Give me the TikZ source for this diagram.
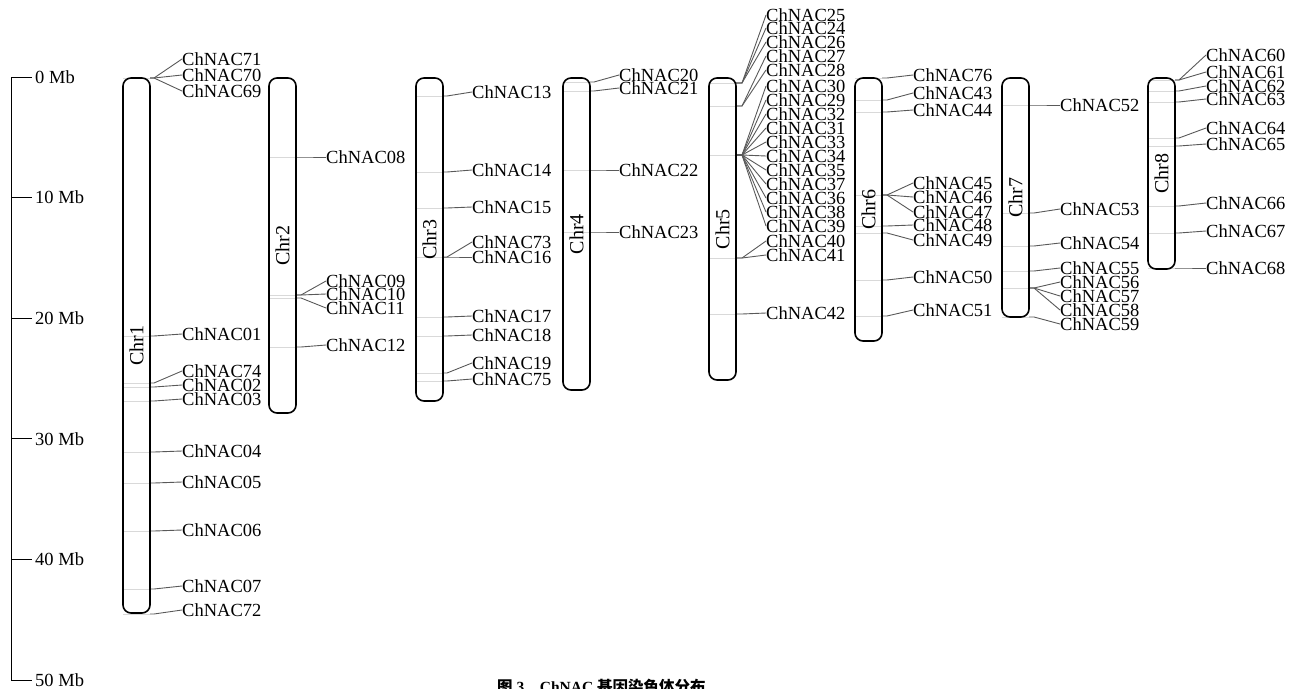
\documentclass[tikz,border=0pt]{standalone}
\usepackage{fontspec}
\setmainfont{Liberation Serif}
\newfontfamily\cjkfont{Noto Sans CJK SC}
\usetikzlibrary{positioning}

\begin{document}
\begin{tikzpicture}[x=1pt, y=-1pt,
    chrom/.style={draw=black, line width=1.6pt, rounded corners=8pt},
    chrname/.style={rotate=90, inner sep=0pt, font=\fontsize{20}{20}\selectfont},
    genetick/.style={draw=gray!30, line width=0.8pt},
    genelink/.style={draw=gray!70!black, line width=0.9pt},
    genename/.style={anchor=west, inner sep=0pt, font=\fontsize{18.5}{18.5}\selectfont},
    scalelabel/.style={anchor=west, inner sep=0pt, font=\fontsize{18.5}{18.5}\selectfont}]
    \useasboundingbox (0,0) rectangle (1301,688);

    % Scale bar (12.06 px per Mb)
    \draw[line width=1pt] (11,77) -- (11,680);
    \foreach \mb in {0,10,20,30,40,50} {
        \coordinate (tick\mb) at (11,77+12.06*\mb);
        \node[scalelabel] (mb\mb) at (35,77+12.06*\mb) {\mb~Mb};
        \draw[line width=1pt] (tick\mb) -- ++(21,0);
    }

    % Chr1 genes
    \foreach \g/\gy/\ly in {71/78/59, 70/78/75, 69/78/91, 01/336/334, 74/383/371, 02/387/385,
        03/401/399, 04/452/451, 05/483/482, 06/531/530, 07/589/586, 72/614/610} {
        \coordinate (g\g) at (150,\gy);
        \node[genename] (n\g) at (182,\ly) {ChNAC\g};
        \draw[genetick] (123,\gy) -- (g\g);
        \draw[genelink] (g\g) -- ++(4,0) -- (n\g.west);
    }

    % Chr2 genes
    \foreach \g/\gy/\ly in {08/157/157, 09/295/281, 10/295/294, 11/298/308, 12/347/345} {
        \coordinate (g\g) at (297,\gy);
        \node[genename] (n\g) at (326,\ly) {ChNAC\g};
        \draw[genetick] (269,\gy) -- (g\g);
        \draw[genelink] (g\g) -- ++(4,0) -- (n\g.west);
    }

    % Chr3 genes
    \foreach \g/\gy/\ly in {13/96/92, 14/172/170, 15/208/207, 73/257/242, 16/257/257,
        17/317/316, 18/336/335, 19/373/363, 75/381/379} {
        \coordinate (g\g) at (443,\gy);
        \node[genename] (n\g) at (472,\ly) {ChNAC\g};
        \draw[genetick] (416,\gy) -- (g\g);
        \draw[genelink] (g\g) -- ++(4,0) -- (n\g.west);
    }

    % Chr4 genes
    \foreach \g/\gy/\ly in {20/82/75, 21/91/88, 22/170/170, 23/232/232} {
        \coordinate (g\g) at (590,\gy);
        \node[genename] (n\g) at (619,\ly) {ChNAC\g};
        \draw[genetick] (563,\gy) -- (g\g);
        \draw[genelink] (g\g) -- ++(4,0) -- (n\g.west);
    }

    % Chr5 genes
    \foreach \g/\gy/\ly in {25/83/15, 24/83/28, 26/83/42, 27/106/56, 28/106/70,
        30/155/86, 29/155/100, 32/155/114, 31/155/128, 33/155/142, 34/155/156,
        35/155/170, 37/155/184, 36/155/198, 38/155/212, 39/155/226,
        40/258/241, 41/258/255, 42/314/313} {
        \coordinate (g\g) at (736,\gy);
        \node[genename] (n\g) at (766,\ly) {ChNAC\g};
        \draw[genetick] (709,\gy) -- (g\g);
        \draw[genelink] (g\g) -- ++(6,0) -- (n\g.west);
    }

    % Chr6 genes
    \foreach \g/\gy/\ly in {76/78/75, 43/100/93, 44/112/110, 45/195/183, 46/195/197,
        47/195/212, 48/226/225, 49/233/240, 50/280/277, 51/316/310} {
        \coordinate (g\g) at (882,\gy);
        \node[genename] (n\g) at (913,\ly) {ChNAC\g};
        \draw[genetick] (855,\gy) -- (g\g);
        \draw[genelink] (g\g) -- ++(5,0) -- (n\g.west);
    }

    % Chr7 genes
    \foreach \g/\gy/\ly in {52/105/105, 53/213/209, 54/246/243, 55/271/268,
        56/288/282, 57/288/296, 58/288/310, 59/317/324} {
        \coordinate (g\g) at (1029,\gy);
        \node[genename] (n\g) at (1060,\ly) {ChNAC\g};
        \draw[genetick] (1002,\gy) -- (g\g);
        \draw[genelink] (g\g) -- ++(5,0) -- (n\g.west);
    }

    % Chr8 genes
    \foreach \g/\gy/\ly in {60/80/55, 61/80/72, 62/91/86, 63/102/99, 64/138/128,
        65/146/144, 66/206/203, 67/233/231, 68/268/268} {
        \coordinate (g\g) at (1175,\gy);
        \node[genename] (n\g) at (1206,\ly) {ChNAC\g};
        \draw[genetick] (1148,\gy) -- (g\g);
        \draw[genelink] (g\g) -- ++(4,0) -- (n\g.west);
    }

    % Chromosomes
    \foreach \c/\x/\b in {1/123/613, 2/269/413, 3/416/401, 4/563/390,
        5/709/380, 6/855/341, 7/1002/317, 8/1148/269} {
        \draw[chrom] (\x,78) rectangle (\x+27,\b);
        \node[chrname] (chr\c) at (\x+13.5,{(78+\b)/2}) {Chr\c};
    }

    % Caption
    \node[anchor=base west, inner sep=0pt, font=\fontsize{15.5}{15.5}\selectfont\bfseries] (caption) at (497,692)
        {{\cjkfont 图}~3\quad ChNAC~{\cjkfont 基因染色体分布}};
\end{tikzpicture}
\end{document}
